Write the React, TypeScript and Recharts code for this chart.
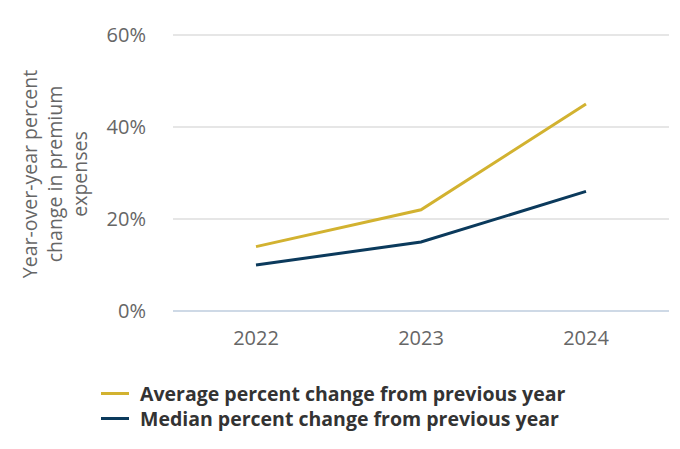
import React from 'react';
import { LineChart, Line, XAxis, YAxis, CartesianGrid, Legend } from 'recharts';

const years = ['2022', '2023', '2024'];
const averageChange = [14, 22, 45];
const medianChange = [10, 15, 26];
const yTicks = [0, 20, 40, 60];
const seriesNames = ['Average percent change from previous year', 'Median percent change from previous year'];
const seriesColors = ['#d2b230', '#0b3a5c'];
const yLabelLines = ['Year-over-year percent', 'change in premium', 'expenses'];

const data = years.map((y, i) => ({ year: y, avg: averageChange[i], med: medianChange[i] }));

const FONT = '"Open Sans", "Noto Sans", sans-serif';

const YLabel = () => {
  const cy = 174;
  const cx = 45;
  return (
    <text
      x={cx}
      y={cy}
      transform={`rotate(-90, ${cx}, ${cy})`}
      textAnchor="middle"
      fill="#666"
      fontSize={19.5}
      fontFamily={FONT}
    >
      {yLabelLines.map((l, i) => (
        <tspan key={i} x={cx} dy={i === 0 ? -13 : 25} dominantBaseline="middle">
          {l}
        </tspan>
      ))}
    </text>
  );
};

const LegendContent = () => (
  <div style={{ fontFamily: FONT, fontWeight: 700, fontSize: 19.5, color: '#333', lineHeight: '25px' }}>
    {seriesNames.map((n, i) => (
      <div key={i} style={{ display: 'flex', alignItems: 'center', whiteSpace: 'nowrap' }}>
        <span style={{ display: 'inline-block', width: 28, height: 3, background: seriesColors[i], marginRight: 11 }} />
        <span>{n}</span>
      </div>
    ))}
  </div>
);

export default function App() {
  return (
    <div style={{ position: 'absolute', left: 0, top: 0, width: 680, height: 449, background: '#fff' }}>
      <LineChart width={680} height={449} data={data} margin={{ top: 35, right: 11, left: 0, bottom: 98 }}>
        <CartesianGrid vertical={false} stroke="#dedede" strokeWidth={1.5} />
        <XAxis
          dataKey="year"
          height={40}
          padding={{ left: 83, right: 83 }}
          tickSize={0}
          tickMargin={20}
          axisLine={{ stroke: '#c6d4e6', strokeWidth: 1.5 }}
          tick={{ fill: '#666', fontSize: 20, fontFamily: FONT }}
        />
        <YAxis
          width={173}
          domain={[0, 60]}
          ticks={yTicks}
          tickFormatter={(v: number) => `${v}%`}
          axisLine={false}
          tickLine={false}
          tickSize={0}
          tickMargin={27}
          tick={{ fill: '#666', fontSize: 20, fontFamily: FONT }}
          label={<YLabel />}
        />
        <Line type="linear" dataKey="avg" name={seriesNames[0]} stroke={seriesColors[0]} strokeWidth={3} dot={false} isAnimationActive={false} />
        <Line type="linear" dataKey="med" name={seriesNames[1]} stroke={seriesColors[1]} strokeWidth={3} dot={false} isAnimationActive={false} />
        <Legend
          layout="vertical"
          align="center"
          verticalAlign="middle"
          content={<LegendContent />}
          wrapperStyle={{ top: 381, left: 101, width: 'auto', right: 'auto', bottom: 'auto' }}
        />
      </LineChart>
    </div>
  );
}
